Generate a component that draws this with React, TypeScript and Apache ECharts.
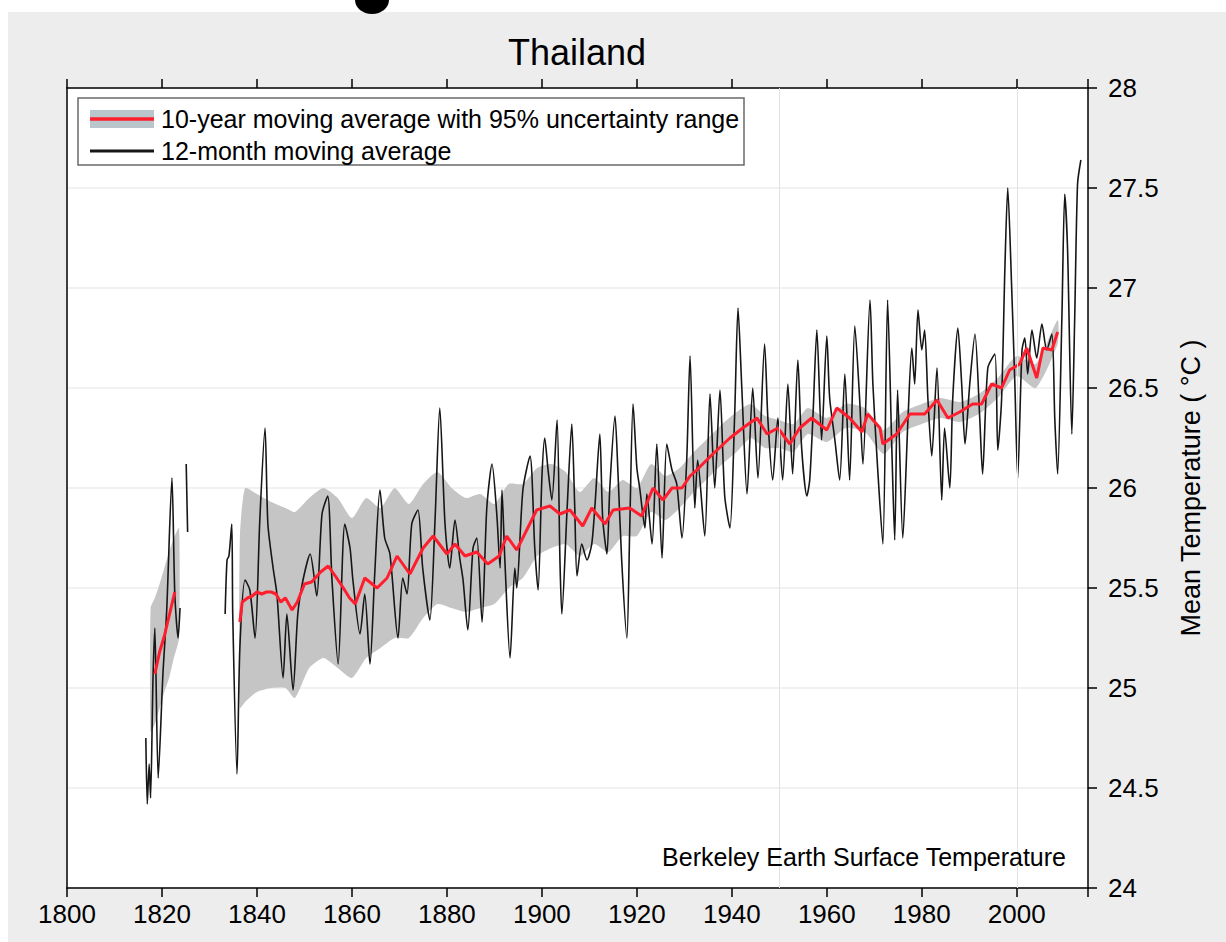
import React, { useEffect, useRef } from 'react';
import * as echarts from 'echarts';

const titleText = 'Thailand';
const yAxisName = 'Mean Temperature ( °C )';
const sourceText = 'Berkeley Earth Surface Temperature';
const legendLabels = ['10-year moving average with 95% uncertainty range', '12-month moving average'];

// 12-month moving average (black), three separate runs
const blackEarly: [number, number][] = [
  [1816.6, 24.75], [1816.9, 24.42], [1817.3, 24.62], [1817.6, 24.45], [1818.1, 25.04], [1818.5, 25.3],
  [1819.2, 24.55], [1820.2, 25.07], [1821.0, 25.39], [1822.1, 26.05], [1822.7, 25.47], [1823.4, 25.25], [1823.8, 25.4],
];
const blackShort: [number, number][] = [[1825.1, 26.12], [1825.4, 25.78]];
const blackMain: [number, number][] = [
  [1833.3, 25.37], [1833.7, 25.64], [1834.1, 25.66], [1834.7, 25.82], [1834.9, 25.37], [1835.8, 24.57], [1836.4, 25.2],
  [1837.5, 25.54], [1838.5, 25.49], [1839.6, 25.25], [1840.6, 25.84], [1841.7, 26.3], [1842.3, 25.82], [1843.4, 25.6],
  [1844.2, 25.47], [1845.5, 25.05], [1846.3, 25.37], [1847.6, 24.99], [1848.6, 25.37], [1849.7, 25.54], [1851.2, 25.67],
  [1852.6, 25.46], [1853.7, 25.87], [1854.9, 25.96], [1855.8, 25.54], [1857.1, 25.12], [1858.5, 25.82], [1859.6, 25.7],
  [1860.2, 25.54], [1861.7, 25.27], [1862.7, 25.47], [1863.8, 25.12], [1864.8, 25.57], [1865.9, 25.99], [1866.9, 25.75],
  [1868.0, 25.67], [1869.7, 25.25], [1870.7, 25.55], [1871.6, 25.47], [1872.6, 25.82], [1873.9, 25.89], [1874.9, 25.6],
  [1876.4, 25.34], [1877.5, 25.84], [1878.5, 26.4], [1879.6, 25.82], [1880.6, 25.6], [1881.7, 25.84], [1882.7, 25.65],
  [1883.4, 25.54], [1884.4, 25.29], [1885.5, 25.7], [1886.3, 25.75], [1887.4, 25.33], [1888.4, 25.9], [1889.5, 26.12],
  [1890.5, 25.87], [1891.2, 25.6], [1891.6, 25.99], [1892.2, 25.64], [1893.3, 25.15], [1894.3, 25.6], [1894.7, 25.5],
  [1896.0, 25.99], [1897.5, 26.16], [1898.5, 25.7], [1899.2, 25.49], [1900.0, 26.05], [1900.6, 26.25], [1901.3, 26.09],
  [1902.1, 25.94], [1903.2, 26.34], [1903.8, 25.64], [1904.2, 25.37], [1905.3, 25.89], [1906.3, 26.32], [1906.9, 25.92],
  [1907.4, 25.56], [1908.4, 25.72], [1909.5, 25.64], [1910.5, 25.72], [1911.2, 25.92], [1912.2, 26.27], [1912.8, 25.85],
  [1913.7, 25.67], [1914.3, 26.0], [1915.4, 26.36], [1916.0, 26.09], [1916.8, 25.64], [1917.9, 25.25], [1918.5, 25.8],
  [1919.2, 26.42], [1920.0, 26.1], [1920.6, 26.0], [1921.7, 25.8], [1922.1, 25.97], [1923.2, 25.72], [1924.2, 26.22],
  [1925.3, 25.65], [1926.3, 26.22], [1927.4, 26.09], [1928.4, 26.02], [1929.5, 25.75], [1930.5, 26.14], [1931.2, 26.66],
  [1932.2, 25.9], [1932.8, 26.14], [1934.3, 25.76], [1935.4, 26.47], [1936.4, 26.0], [1937.5, 26.49], [1938.5, 25.96],
  [1939.6, 25.8], [1940.6, 26.37], [1941.3, 26.9], [1942.1, 26.5], [1943.2, 25.97], [1944.4, 26.5], [1945.5, 26.05],
  [1946.9, 26.72], [1947.6, 26.34], [1948.6, 26.04], [1949.7, 26.35], [1950.7, 26.04], [1951.8, 26.52], [1952.8, 26.07],
  [1953.9, 26.64], [1954.7, 26.2], [1955.8, 25.96], [1956.4, 26.04], [1957.1, 26.37], [1957.9, 26.79], [1958.9, 26.24],
  [1960.0, 26.76], [1960.6, 26.45], [1961.7, 26.24], [1962.7, 26.04], [1963.8, 26.57], [1964.8, 26.04], [1965.9, 26.81],
  [1966.9, 26.45], [1967.6, 26.12], [1969.1, 26.94], [1969.7, 26.52], [1970.7, 26.1], [1971.8, 25.72], [1972.8, 26.94],
  [1973.7, 26.19], [1974.3, 25.74], [1974.9, 26.49], [1976.0, 25.75], [1977.1, 26.35], [1977.9, 26.7], [1978.5, 26.52],
  [1979.2, 26.89], [1980.0, 26.69], [1980.6, 26.79], [1981.3, 26.44], [1982.1, 26.16], [1983.2, 26.6], [1984.2, 25.94],
  [1984.8, 26.3], [1985.9, 26.0], [1986.5, 26.44], [1987.6, 26.8], [1988.4, 26.52], [1989.1, 26.22], [1990.1, 26.52],
  [1991.2, 26.77], [1992.2, 26.35], [1992.8, 26.07], [1993.9, 26.6], [1995.4, 26.67], [1996.0, 26.19], [1996.8, 26.44],
  [1997.5, 27.1], [1998.1, 27.5], [1998.9, 27.02], [1999.6, 26.52], [2000.2, 26.05], [2001.1, 26.69], [2001.7, 26.75],
  [2002.3, 26.57], [2003.2, 26.79], [2004.2, 26.65], [2005.3, 26.82], [2006.3, 26.69], [2007.4, 26.77], [2008.0, 26.35],
  [2008.6, 26.07], [2009.5, 26.85], [2010.1, 27.47], [2010.7, 27.19], [2011.6, 26.27], [2012.2, 26.85], [2012.8, 27.52],
  [2013.5, 27.64],
];

// 10-year moving average (red)
const redEarly: [number, number][] = [[1818.5, 25.07], [1819.5, 25.18], [1820.5, 25.26], [1821.5, 25.36], [1822.7, 25.48]];
const redMain: [number, number][] = [
  [1836.4, 25.33], [1836.9, 25.43], [1838.0, 25.45], [1839.0, 25.46], [1840.0, 25.48], [1841.0, 25.47], [1842.0, 25.48],
  [1843.0, 25.48], [1844.0, 25.47], [1845.0, 25.43], [1846.0, 25.45], [1847.4, 25.39], [1848.5, 25.43], [1850.0, 25.52],
  [1851.5, 25.53], [1853.4, 25.58], [1855.0, 25.61], [1856.5, 25.56], [1858.2, 25.5], [1859.5, 25.45], [1860.7, 25.42],
  [1862.7, 25.55], [1865.3, 25.5], [1867.4, 25.55], [1869.5, 25.66], [1872.2, 25.57], [1875.0, 25.7], [1877.1, 25.76],
  [1880.0, 25.67], [1881.7, 25.72], [1883.8, 25.66], [1886.3, 25.68], [1888.6, 25.62], [1891.0, 25.66], [1892.6, 25.76],
  [1894.7, 25.69], [1896.6, 25.78], [1898.9, 25.89], [1901.7, 25.91], [1903.8, 25.87], [1905.9, 25.89], [1908.6, 25.81],
  [1910.5, 25.9], [1913.3, 25.82], [1915.0, 25.89], [1918.5, 25.9], [1921.0, 25.86], [1923.4, 26.0], [1925.5, 25.94],
  [1927.4, 26.0], [1929.5, 26.0], [1931.2, 26.06], [1932.6, 26.09], [1936.0, 26.17], [1939.6, 26.25], [1942.3, 26.3],
  [1945.3, 26.35], [1947.4, 26.27], [1949.7, 26.3], [1952.2, 26.22], [1954.3, 26.3], [1956.8, 26.35], [1960.0, 26.29],
  [1962.1, 26.4], [1964.8, 26.35], [1967.4, 26.28], [1968.6, 26.37], [1971.2, 26.3], [1971.8, 26.22], [1974.7, 26.27],
  [1977.5, 26.37], [1980.6, 26.37], [1983.2, 26.44], [1985.5, 26.35], [1988.0, 26.38], [1990.7, 26.42], [1992.6, 26.42],
  [1994.7, 26.52], [1996.8, 26.5], [1998.5, 26.59], [2000.6, 26.62], [2002.1, 26.7], [2004.2, 26.55], [2005.5, 26.7],
  [2007.4, 26.69], [2008.6, 26.78],
];

// 95% uncertainty range
const bandEarlyYears = [1817.6, 1818.5, 1819.5, 1820.5, 1821.5, 1822.5, 1823.6];
const bandEarlyLow = [24.78, 24.82, 24.9, 24.98, 25.05, 25.15, 25.25];
const bandEarlyHigh = [25.4, 25.45, 25.52, 25.6, 25.68, 25.75, 25.8];
const bandMainYears = [
  1836.4, 1837.5, 1840, 1843, 1846, 1848, 1851, 1854, 1857, 1860, 1863, 1866, 1869, 1872, 1875, 1878, 1881, 1884, 1887,
  1890, 1893, 1896, 1899, 1902, 1905, 1908, 1911, 1914, 1917, 1920, 1923, 1926, 1929, 1932, 1935, 1938, 1941, 1944, 1947,
  1950, 1953, 1956, 1960, 1964, 1968, 1972, 1976, 1980, 1984, 1988, 1992, 1996, 2000, 2004, 2008.6,
];
const bandMainLow = [
  24.9, 24.93, 24.98, 25.0, 25.0, 24.95, 25.1, 25.15, 25.1, 25.05, 25.15, 25.2, 25.25, 25.25, 25.35, 25.42, 25.4, 25.38,
  25.4, 25.42, 25.5, 25.55, 25.66, 25.7, 25.72, 25.66, 25.72, 25.68, 25.76, 25.76, 25.88, 25.84, 25.9, 25.98, 26.05, 26.12,
  26.18, 26.25, 26.2, 26.2, 26.18, 26.27, 26.23, 26.3, 26.28, 26.17, 26.28, 26.32, 26.35, 26.33, 26.37, 26.45, 26.56, 26.5,
  26.72,
];
const bandMainHigh = [
  25.75, 26.0, 25.97, 25.93, 25.9, 25.88, 25.95, 26.0, 25.95, 25.85, 25.95, 25.9, 26.0, 25.92, 26.02, 26.08, 26.0, 25.95,
  25.97, 25.92, 26.02, 26.02, 26.1, 26.12, 26.08, 25.98, 26.05, 25.98, 26.04, 26.0, 26.12, 26.06, 26.1, 26.18, 26.25, 26.32,
  26.38, 26.42, 26.36, 26.34, 26.32, 26.4, 26.35, 26.42, 26.4, 26.29, 26.38, 26.42, 26.45, 26.43, 26.47, 26.55, 26.66, 26.62,
  26.84,
];

const faintYears = [1950, 2000];

const FONT = '"Liberation Sans", Arial, sans-serif';
const RED = '#ff1e2d';
const BLACK = '#161616';
const BAND = '#c5c5c5';

const bands = [
  { years: bandEarlyYears, low: bandEarlyLow, high: bandEarlyHigh },
  { years: bandMainYears, low: bandMainLow, high: bandMainHigh },
];

function blackSeries(data: [number, number][], withMarks = false) {
  const s: any = {
    type: 'line',
    data,
    showSymbol: false,
    smooth: 0.25,
    lineStyle: { color: BLACK, width: 1.6 },
    z: 3,
    silent: true,
  };
  if (withMarks) {
    s.markLine = {
      silent: true,
      symbol: 'none',
      label: { show: false },
      lineStyle: { color: '#e2e2e2', width: 1, type: 'solid' },
      data: faintYears.map((y) => ({ xAxis: y })),
    };
  }
  return s;
}

function redSeries(data: [number, number][]) {
  return {
    type: 'line',
    data,
    showSymbol: false,
    lineStyle: { color: RED, width: 3 },
    z: 4,
    silent: true,
  };
}

export default function App() {
  const ref = useRef<HTMLDivElement>(null);
  useEffect(() => {
    document.body.style.margin = '0';
    const chart = echarts.init(ref.current!, null, { renderer: 'svg' });
    const option: any = {
      animation: false,
      backgroundColor: '#ffffff',
      textStyle: { fontFamily: FONT },
      grid: { left: 67, top: 88, width: 1021, height: 800, show: false },
      xAxis: [
        {
          type: 'value',
          min: 1800,
          max: 2015,
          interval: 20,
          position: 'bottom',
          axisLine: { show: true, onZero: false, lineStyle: { color: '#000', width: 1.5 } },
          axisTick: { show: true, length: 9, lineStyle: { color: '#000', width: 1.5 } },
          axisLabel: {
            color: '#000',
            fontSize: 26,
            fontFamily: FONT,
            margin: 13,
            formatter: (v: number) => (v <= 2000 ? String(v) : ''),
          },
          splitLine: { show: false },
        },
        {
          type: 'value',
          min: 1800,
          max: 2015,
          interval: 20,
          position: 'top',
          axisLine: { show: true, onZero: false, lineStyle: { color: '#000', width: 1.5 } },
          axisTick: { show: true, length: 9, lineStyle: { color: '#000', width: 1.5 } },
          axisLabel: { show: false },
          splitLine: { show: false },
        },
      ],
      yAxis: [
        {
          type: 'value',
          min: 24,
          max: 28,
          interval: 0.5,
          position: 'right',
          name: yAxisName,
          nameLocation: 'middle',
          nameRotate: 90,
          nameGap: 89,
          nameTextStyle: { color: '#000', fontSize: 27, fontFamily: FONT },
          axisLine: { show: true, onZero: false, lineStyle: { color: '#000', width: 1.5 } },
          axisTick: { show: true, length: 9, lineStyle: { color: '#000', width: 1.5 } },
          axisLabel: { color: '#000', fontSize: 26, fontFamily: FONT, margin: 20 },
          splitLine: { show: true, lineStyle: { color: '#ececec', width: 1.5 } },
        },
        {
          type: 'value',
          min: 24,
          max: 28,
          position: 'left',
          axisLine: { show: true, onZero: false, lineStyle: { color: '#000', width: 1.5 } },
          axisTick: { show: false },
          axisLabel: { show: false },
          splitLine: { show: false },
        },
      ],
      series: [
        {
          type: 'custom',
          silent: true,
          z: 2,
          clip: true,
          encode: { x: 0, y: 1 },
          data: bands.map((b) => [b.years[0], b.low[0]]),
          renderItem: (params: any, api: any) => {
            const b = bands[params.dataIndex];
            const pts: number[][] = [];
            for (let i = 0; i < b.years.length; i++) pts.push(api.coord([b.years[i], b.high[i]]));
            for (let i = b.years.length - 1; i >= 0; i--) pts.push(api.coord([b.years[i], b.low[i]]));
            return { type: 'polygon', shape: { points: pts, smooth: 0.2 }, style: { fill: BAND } };
          },
        },
        blackSeries(blackEarly, true),
        blackSeries(blackShort),
        blackSeries(blackMain),
        redSeries(redEarly),
        redSeries(redMain),
      ],
      graphic: {
        elements: [
          { type: 'rect', z: -100, shape: { x: 8, y: 12, width: 1218, height: 930 }, style: { fill: '#ededed' } },
          { type: 'rect', z: -99, shape: { x: 67, y: 88, width: 1021, height: 800 }, style: { fill: '#ffffff' } },
          { type: 'ellipse', z: -98, shape: { cx: 372, cy: 0, rx: 17, ry: 14 }, style: { fill: '#000' } },
          {
            type: 'text',
            z: 50,
            x: 577,
            y: 52,
            style: { text: titleText, fill: '#000', font: `36px ${FONT}`, textAlign: 'center', textVerticalAlign: 'middle' },
          },
          {
            type: 'rect',
            z: 50,
            shape: { x: 78, y: 98, width: 666, height: 67 },
            style: { fill: '#ffffff', stroke: '#6a6a6a', lineWidth: 1.5 },
          },
          { type: 'rect', z: 51, shape: { x: 90, y: 110, width: 64, height: 18 }, style: { fill: '#b9c7cd' } },
          { type: 'line', z: 52, shape: { x1: 90, y1: 119, x2: 154, y2: 119 }, style: { stroke: RED, lineWidth: 3.5 } },
          {
            type: 'text',
            z: 52,
            x: 161,
            y: 119,
            style: { text: legendLabels[0], fill: '#000', font: `25px ${FONT}`, textVerticalAlign: 'middle' },
          },
          { type: 'line', z: 52, shape: { x1: 90, y1: 151, x2: 154, y2: 151 }, style: { stroke: BLACK, lineWidth: 3 } },
          {
            type: 'text',
            z: 52,
            x: 161,
            y: 151,
            style: { text: legendLabels[1], fill: '#000', font: `25px ${FONT}`, textVerticalAlign: 'middle' },
          },
          {
            type: 'text',
            z: 52,
            x: 1066,
            y: 857,
            style: { text: sourceText, fill: '#000', font: `25px ${FONT}`, textAlign: 'right', textVerticalAlign: 'middle' },
          },
        ],
      },
    };
    chart.setOption(option);
    return () => chart.dispose();
  }, []);
  return <div ref={ref} style={{ width: 1226, height: 942 }} />;
}
